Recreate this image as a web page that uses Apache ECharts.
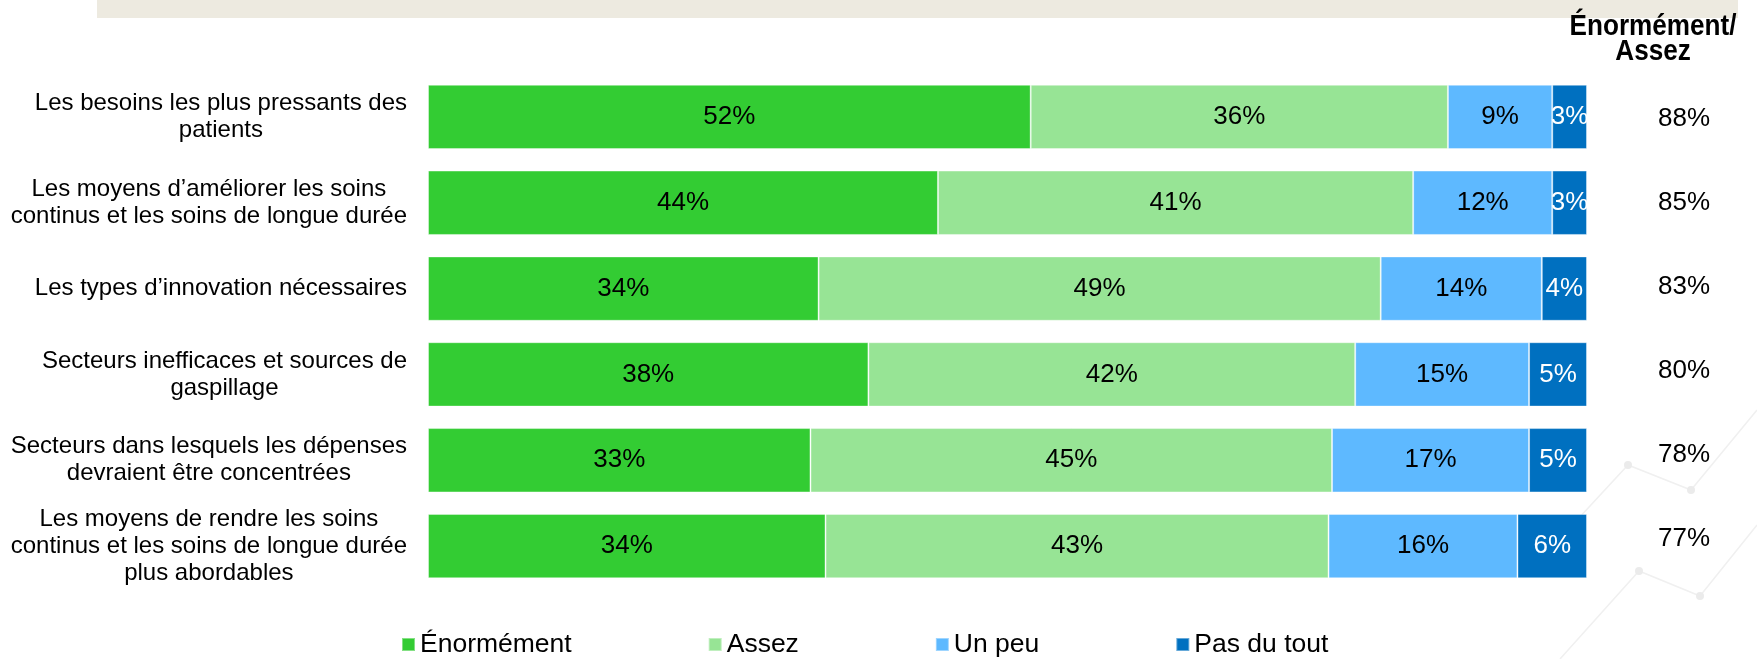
<!DOCTYPE html>
<html>
<head>
<meta charset="utf-8">
<script src="https://cdn.jsdelivr.net/npm/echarts@6/dist/echarts.min.js"></script>
<style>
html,body{margin:0;padding:0;background:#fff;}
#chart{width:1757px;height:659px;}
</style>
</head>
<body>
<div id="chart"></div>
<script>
const categories = [
  "Les besoins les plus pressants des\npatients",
  "Les moyens d’améliorer les soins\ncontinus et les soins de longue durée",
  "Les types d’innovation nécessaires",
  "Secteurs inefficaces et sources de\ngaspillage",
  "Secteurs dans lesquels les dépenses\ndevraient être concentrées",
  "Les moyens de rendre les soins\ncontinus et les soins de longue durée\nplus abordables"
];
const seriesNames = ["Énormément", "Assez", "Un peu", "Pas du tout"];
const enormement = [52, 44, 33.7, 38, 33, 34.3];
const assez = [36, 41, 48.5, 42, 45, 43.4];
const unPeu = [9, 12, 13.9, 15, 17, 16.3];
const pasDuTout = [3, 3, 3.9, 5, 5, 6];
const totals = [88, 85, 83, 80, 78, 77];
const totalsHeader = "Énormément/\nAssez";

const colors = ["#33CC33", "#97E495", "#5EB9FF", "#0070C0"];
const labelColors = ["#000", "#000", "#000", "#fff"];
const FONT = "'Liberation Sans', Arial, sans-serif";

const chart = echarts.init(document.getElementById('chart'), null, {renderer: 'canvas'});

const valueSets = [enormement, assez, unPeu, pasDuTout];
const barSeries = valueSets.map((vals, k) => ({
  name: seriesNames[k],
  type: 'bar',
  stack: 'total',
  xAxisIndex: 0,
  yAxisIndex: 0,
  barCategoryGap: '25%',
  data: vals,
  itemStyle: {color: colors[k], borderColor: 'rgba(255,255,255,0.4)', borderWidth: 1},
  label: {
    show: true,
    position: 'inside',
    formatter: p => Math.round(p.value) + '%',
    fontSize: 26,
    fontFamily: FONT,
    color: labelColors[k]
  },
  emphasis: {disabled: true},
  silent: true
}));

const option = {
  animation: false,
  backgroundColor: '#ffffff',
  textStyle: {fontFamily: FONT},
  grid: [
    {left: 428, right: 170, top: 74, height: 515, containLabel: false},
    {left: 1634, width: 100, top: 77, height: 504, containLabel: false}
  ],
  xAxis: [
    {type: 'value', min: 0, max: 100, gridIndex: 0, show: false},
    {type: 'value', min: 0, max: 1, gridIndex: 1, show: false}
  ],
  yAxis: [
    {
      type: 'category', data: categories, inverse: true, gridIndex: 0,
      axisLine: {show: false}, axisTick: {show: false}, splitLine: {show: false},
      axisLabel: {
        margin: 21,
        align: 'right',
        formatter: v => v.split('\n').map(l => '{c|' + l + '}').join('\n'),
        rich: {c: {align: 'center', fontSize: 24, lineHeight: 27, fontFamily: FONT, color: '#000'}}
      }
    },
    {type: 'category', data: categories, inverse: true, gridIndex: 1, show: false}
  ],
  legend: {
    data: seriesNames,
    left: 396,
    top: 626,
    icon: 'rect',
    itemWidth: 13,
    itemHeight: 13,
    itemGap: 136,
    textStyle: {fontSize: 26.5, fontFamily: FONT, color: '#000'},
    selectedMode: false
  },
  graphic: [
    {type: 'rect', z: 0, shape: {x: 97, y: 0, width: 1641, height: 18}, style: {fill: '#EDEAE0'}},
    {type: 'polyline', z: 0, shape: {points: [[1540, 560], [1628, 465], [1691, 490], [1757, 410]]}, style: {stroke: '#f0f0f0', lineWidth: 1.5, fill: null}},
    {type: 'polyline', z: 0, shape: {points: [[1560, 659], [1639, 571], [1700, 596], [1757, 525]]}, style: {stroke: '#f0f0f0', lineWidth: 1.5, fill: null}},
    {type: 'circle', z: 0, shape: {cx: 1628, cy: 465, r: 4}, style: {fill: '#ebebeb'}},
    {type: 'circle', z: 0, shape: {cx: 1691, cy: 490, r: 4}, style: {fill: '#ebebeb'}},
    {type: 'circle', z: 0, shape: {cx: 1639, cy: 571, r: 4}, style: {fill: '#ebebeb'}},
    {type: 'circle', z: 0, shape: {cx: 1700, cy: 596, r: 4}, style: {fill: '#ebebeb'}},
    {type: 'text', z: 10, x: 1653, y: 14, scaleX: 0.9, scaleY: 1, style: {text: totalsHeader, textAlign: 'center', textVerticalAlign: 'top', font: "bold 29px 'Liberation Sans', Arial, sans-serif", lineHeight: 25, fill: '#000'}}
  ],
  series: barSeries.concat([{
    name: 'totals',
    type: 'scatter',
    xAxisIndex: 1,
    yAxisIndex: 1,
    symbolSize: 1,
    itemStyle: {color: 'rgba(0,0,0,0)', opacity: 1},
    data: totals.map((t, i) => [0.5, i, t]),
    label: {
      show: true,
      position: 'inside',
      formatter: p => p.value[2] + '%',
      fontSize: 26,
      fontFamily: FONT,
      color: '#000',
      opacity: 1
    },
    emphasis: {disabled: true},
    silent: true
  }])
};
chart.setOption(option);
</script>
</body>
</html>
